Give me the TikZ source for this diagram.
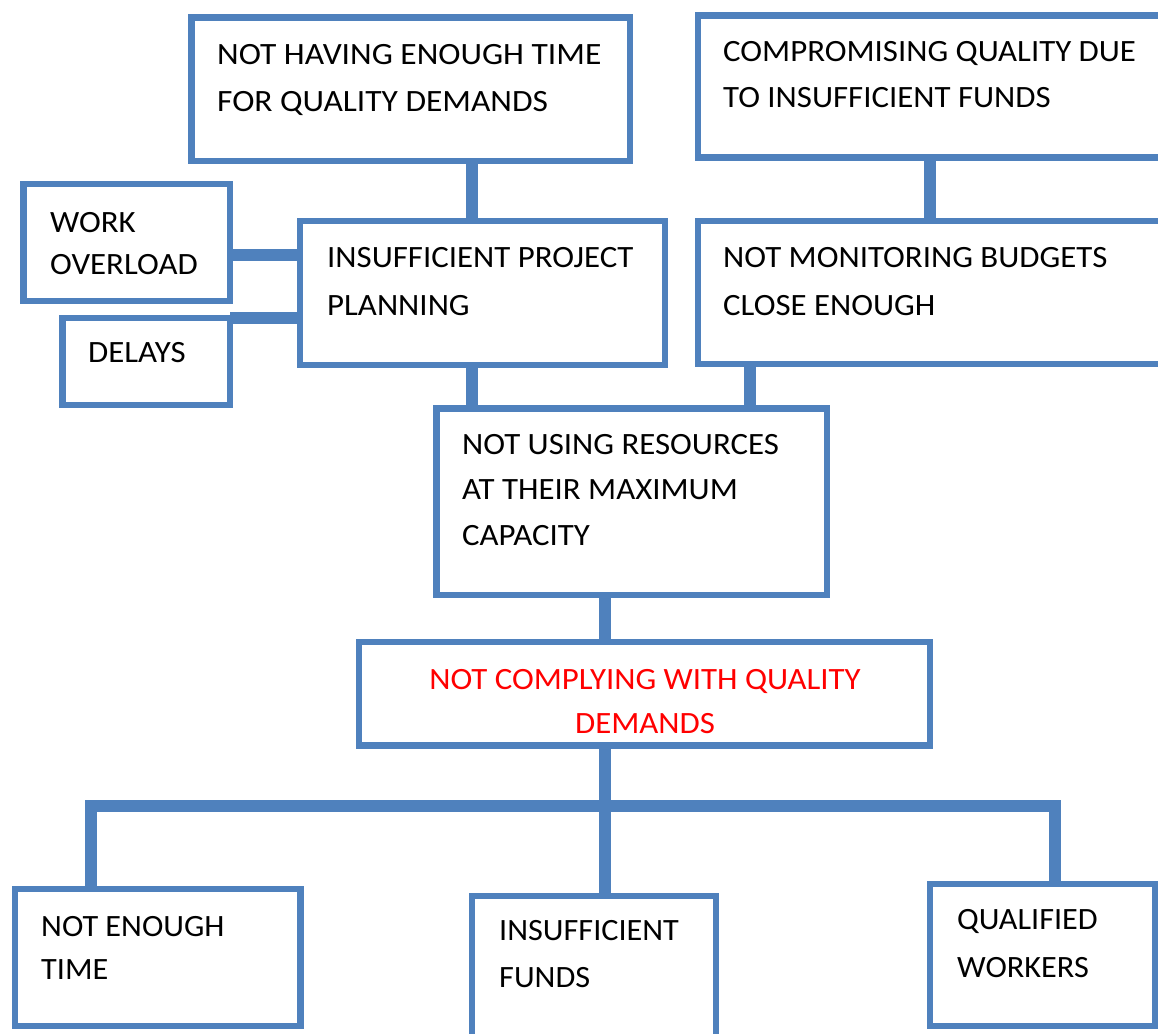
\documentclass[tikz,border=0pt]{standalone}
\usepackage{fontspec}
\setmainfont{Carlito}[FakeStretch=1.06]
\definecolor{boxblue}{RGB}{79,129,189}
\definecolor{alertred}{RGB}{255,0,0}
% stacked left-aligned lines, baseline on the first line
\newcommand\stacklines[2]{\vtop{\baselineskip=#1\relax\lineskiplimit=-100pt #2}}
% stacked centred lines, baseline on the first line
\newcommand\centerstack[2]{\vtop{\baselineskip=#1\relax\lineskiplimit=-100pt
  \halign{\hfil##\hfil\cr #2\cr}}}
\tikzset{
  box/.style={rectangle, draw=boxblue, line width=6.5pt, fill=white,
              inner sep=0pt, outer sep=0pt, anchor=north west},
  conn/.style={draw=boxblue, line width=12pt},
  txt/.style={inner sep=0pt, anchor=base west, text=black,
              font=\fontsize{31}{44}\selectfont},
  wide/.style={font=\fontsize{31}{44}\selectfont\addfontfeature{FakeStretch=1.08}},
  narrow/.style={font=\fontsize{31}{44}\selectfont\addfontfeature{FakeStretch=1.04}},
}
\begin{document}
\begin{tikzpicture}[x=1pt, y=-1pt]
\clip (0,0) rectangle (1158,1033);
\fill[white] (0,0) rectangle (1158,1033);

% connector positions
\coordinate (xAC) at (472,0);
\coordinate (xBD) at (930,0);
\coordinate (xDE) at (749.5,0);
\coordinate (xEF) at (604.5,0);
\coordinate (xG)  at (91,0);
\coordinate (xI)  at (1055,0);
\coordinate (yWO) at (0,255);
\coordinate (yDL) at (0,318);
\coordinate (bus) at (604.5,806);

% boxes (positions of border centre lines)
\node[box, minimum width=438.5pt, minimum height=143.5pt] (A)  at (191.5,17.5) {};
\node[box, minimum width=480pt,   minimum height=142pt]   (B)  at (698,15.5)   {};
\node[box, minimum width=365pt,   minimum height=144pt]   (C)  at (300,221)    {};
\node[box, minimum width=480pt,   minimum height=143pt]   (D)  at (698,221)    {};
\node[box, minimum width=206.5pt, minimum height=117pt]   (WO) at (23.5,184)   {};
\node[box, minimum width=167.5pt, minimum height=87pt]    (DL) at (62.5,318)   {};
\node[box, minimum width=390.5pt, minimum height=186.5pt] (E)  at (436.5,408.5) {};
\node[box, minimum width=571pt,   minimum height=103.5pt] (F)  at (359,642)    {};
\node[box, minimum width=285.5pt, minimum height=137pt]   (G)  at (15,889)     {};
\node[box, minimum width=244pt,   minimum height=170pt]   (H)  at (472,896)    {};
\node[box, minimum width=225pt,   minimum height=142pt]   (I)  at (930,884)    {};

% connectors
\draw[conn] (xAC |- A.south) -- (xAC |- C.north);
\draw[conn] (xBD |- B.south) -- (xBD |- D.north);
\draw[conn] (xAC |- C.south) -- (xAC |- E.north);
\draw[conn] (xDE |- D.south) -- (xDE |- E.north);
\draw[conn] (WO.east |- yWO) -- (C.west |- yWO);
\draw[conn] (DL.east |- yDL) -- (C.west |- yDL);
\draw[conn] (xEF |- E.south) -- (xEF |- F.north);
\draw[conn] (xEF |- F.south) -- (bus);
\draw[conn] (xG |- G.north) |- (bus) -| (xI |- I.north);
\draw[conn] (bus) -- (xEF |- H.north);

% texts
\node[txt, wide] (tA) at (217,64)
  {\stacklines{47pt}{\hbox{NOT HAVING ENOUGH TIME}\hbox{FOR QUALITY DEMANDS}}};
\node[txt] (tB) at (723,62)
  {\stacklines{46pt}{\hbox{COMPROMISING QUALITY DUE}\hbox{TO INSUFFICIENT FUNDS}}};
\node[txt] (tC) at (327,267)
  {\stacklines{48pt}{\hbox{INSUFFICIENT PROJECT}\hbox{PLANNING}}};
\node[txt] (tD) at (723,267)
  {\stacklines{48pt}{\hbox{NOT MONITORING BUDGETS}\hbox{CLOSE ENOUGH}}};
\node[txt] (tWO) at (50,232)
  {\stacklines{42pt}{\hbox{WORK}\hbox{OVERLOAD}}};
\node[txt] (tDL) at (88,362) {DELAYS};
\node[txt] (tE) at (462,454)
  {\stacklines{45.5pt}{\hbox{NOT USING RESOURCES}\hbox{AT THEIR MAXIMUM}\hbox{CAPACITY}}};
\node[txt, anchor=base, text=alertred] (tF) at (645,689)
  {\centerstack{44pt}{NOT COMPLYING WITH QUALITY\cr DEMANDS}};
\node[txt, narrow] (tG) at (41,936)
  {\stacklines{43pt}{\hbox{NOT ENOUGH}\hbox{TIME}}};
\node[txt, narrow] (tH) at (499,940)
  {\stacklines{47pt}{\hbox{INSUFFICIENT}\hbox{FUNDS}}};
\node[txt, narrow] (tI) at (957,929)
  {\stacklines{48pt}{\hbox{QUALIFIED}\hbox{WORKERS}}};
\end{tikzpicture}
\end{document}
